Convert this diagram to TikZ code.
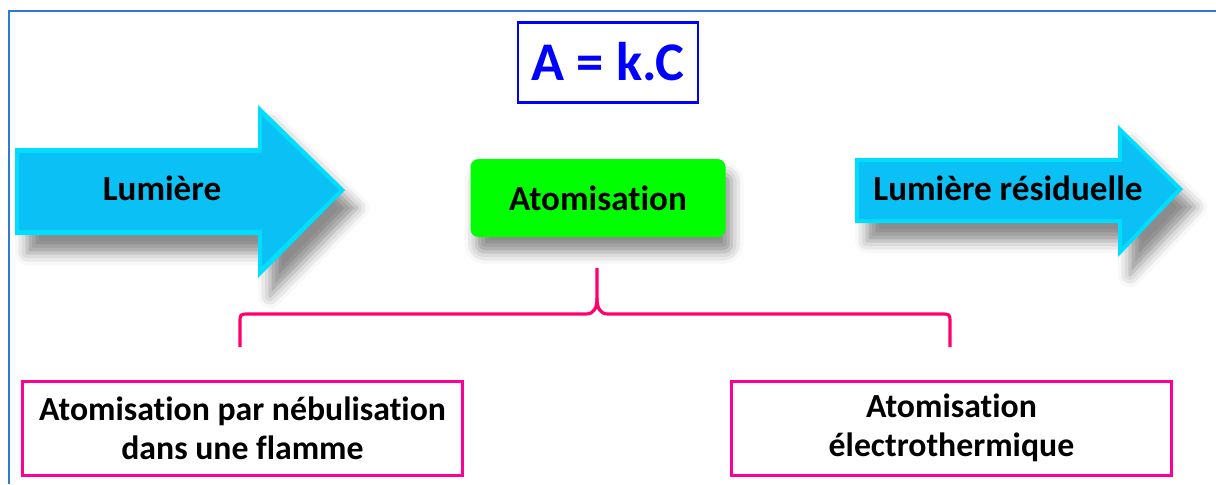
\documentclass[tikz,border=0pt]{standalone}
\usepackage{fontspec}
\setmainfont{Carlito}[Ligatures=NoCommon]
\usetikzlibrary{shadows.blur}

\definecolor{framecol}{RGB}{46,125,205}
\definecolor{skyedge}{RGB}{0,222,255}
\definecolor{skyfill}{RGB}{10,192,245}
\definecolor{flashgreen}{RGB}{0,255,0}
\definecolor{bracepink}{RGB}{255,0,110}
\definecolor{boxpink}{RGB}{255,0,150}

\tikzset{
	arrowshadow/.style={blur shadow={shadow xshift=1.2mm, shadow yshift=-1.8mm, shadow blur radius=1.2mm, shadow opacity=45}},
	arrowtext/.style={font=\fontsize{10}{12}\selectfont\bfseries, inner sep=0pt},
	pinkbox/.style={draw=boxpink, line width=0.85pt, minimum width=44mm, minimum height=9.4mm, align=center, font=\fontsize{9.6}{11.2}\selectfont\bfseries},
}

\begin{document}
\begin{tikzpicture}[x=0.1mm, y=-0.1mm]
		\useasboundingbox (0,0) rectangle (1216,484);
		% frame
		\draw[framecol, line width=0.6pt] (9,484) -- (9,11) -- (1216,11);

		% formula
		\node[draw=blue, line width=0.85pt, text=blue, minimum width=18mm, minimum height=8mm, font=\fontsize{15.5}{18}\selectfont\bfseries] (loi) at (608,62) {A = k.C};

		% incoming and outgoing light
		\fill[skyedge, arrowshadow] (15,148) -- (258,148) -- (258,105) -- (345,190) -- (258,278) -- (258,235) -- (15,235) -- cycle;
		\fill[skyfill] (19,153) -- (262,153) -- (262,116) -- (339,190) -- (262,266) -- (262,230) -- (19,230) -- cycle;
		\node[arrowtext] (lum) at (162,188) {Lumière};

		\fill[skyedge, arrowshadow] (855,158) -- (1118,158) -- (1118,125) -- (1183,189) -- (1118,257) -- (1118,223) -- (855,223) -- cycle;
		\fill[skyfill] (859,162) -- (1122,162) -- (1122,134) -- (1177,189) -- (1122,247) -- (1122,219) -- (859,219) -- cycle;
		\node[arrowtext] (res) at (1008,188) {Lumière résiduelle};

		% atomisation
		\node[fill=flashgreen, rounded corners=0.8mm, minimum width=25.5mm, minimum height=7.8mm, font=\fontsize{10}{12}\selectfont\bfseries, blur shadow={shadow xshift=0.6mm, shadow yshift=-1.5mm, shadow blur radius=1.2mm, shadow opacity=45}] (atom) at (598,198) {Atomisation};

		% two ways
		\node[pinkbox] (flamme) at (242.5,428) {Atomisation par nébulisation\\dans une flamme};
		\node[pinkbox] (four) at (951.5,428) {Atomisation\\électrothermique};

		\coordinate (pic) at (597,268);
		\coordinate (gauche) at (240,347);
		\coordinate (droite) at (950,347);
		\draw[bracepink, line width=0.9pt, line join=round] (gauche) -- (240,323) .. controls (240,314) .. (249,314) -- (586,314) .. controls (594,314) and (597,308) .. (597,298) -- (pic);
		\draw[bracepink, line width=0.9pt, line join=round] (droite) -- (950,323) .. controls (950,314) .. (941,314) -- (608,314) .. controls (600,314) and (597,308) .. (597,298);
		\end{tikzpicture}
\end{document}
